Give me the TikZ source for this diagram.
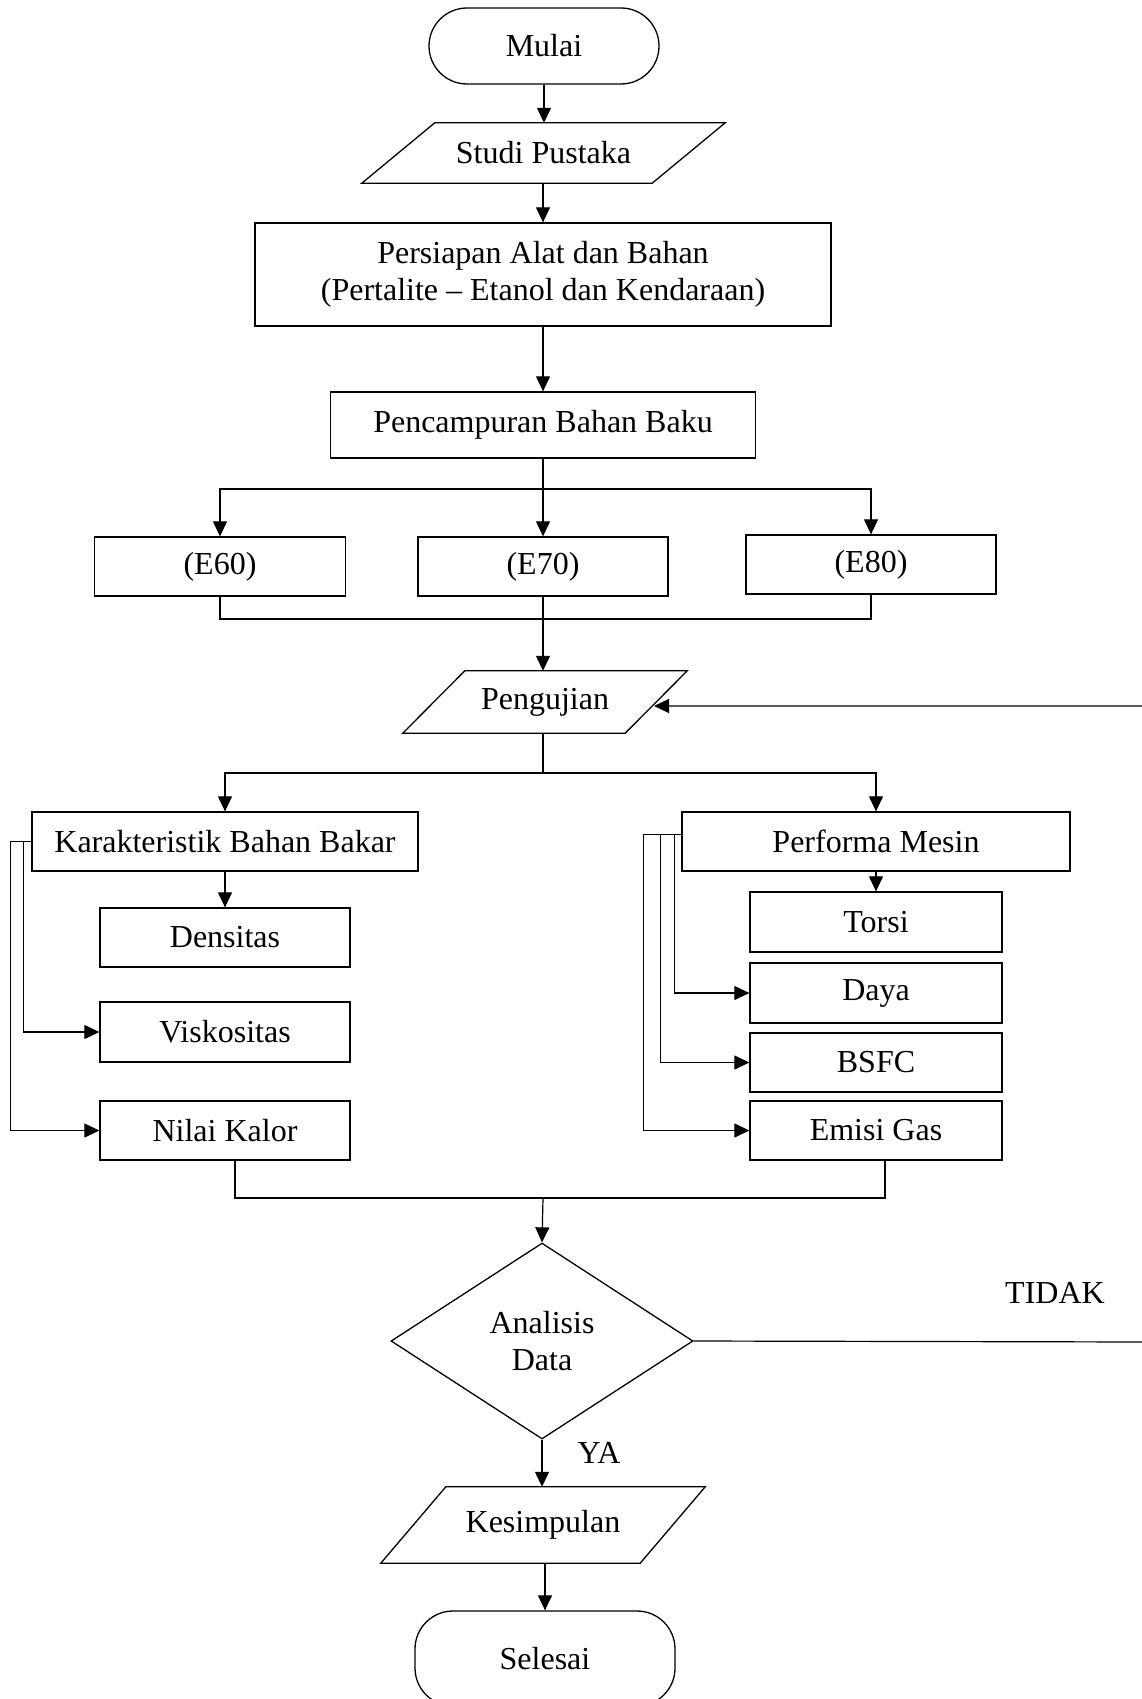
\documentclass[tikz,border=0pt]{standalone}
\usepackage{fontspec}
\setmainfont{Liberation Serif}
\usetikzlibrary{arrows.meta,shapes.geometric}
\newcommand\paraShape[2]{\draw[boxline] ([xshift=#2]#1.north west) -- ([xshift=#2]#1.north east) -- ([xshift=-#2]#1.south east) -- ([xshift=-#2]#1.south west) -- cycle;}
\begin{document}
\begin{tikzpicture}[x=1pt,y=-1pt,
  font=\fontsize{32}{37}\selectfont,
  boxline/.style={line width=1.3pt},
  box/.style={draw, rectangle, line width=1.3pt, inner sep=0pt, align=center},
  term/.style={box, rounded corners=38pt},
  paranode/.style={rectangle, inner sep=0pt, align=center},
  arr/.style={line width=1.2pt, -{Triangle[length=15pt,width=14pt]}},
  ln/.style={line width=1.2pt}]
\useasboundingbox (0,0) rectangle (1142,1699);

% main column
\node[term, minimum width=230pt, minimum height=76pt] (mulai) at (544,46) {Mulai};
\node[paranode, minimum width=290pt, minimum height=60pt] (studi) at (543.5,153) {Studi Pustaka};
\paraShape{studi}{36.5pt}
\node[box, minimum width=576pt, minimum height=103pt] (persiapan) at (543,274.5) {Persiapan Alat dan Bahan\\(Pertalite -- Etanol dan Kendaraan)};
\node[box, minimum width=425pt, minimum height=66pt] (campur) at (543,425) {Pencampuran Bahan Baku};

\node[box, minimum width=251pt, minimum height=59pt] (e60) at (220,566.5) {(E60)};
\node[box, minimum width=250pt, minimum height=59pt] (e70) at (543,566.5) {(E70)};
\node[box, minimum width=250pt, minimum height=59pt] (e80) at (871,564.5) {(E80)};

\node[paranode, minimum width=222pt, minimum height=62pt] (uji) at (545,702) {Pengujian};
\paraShape{uji}{31pt}

\node[box, minimum width=386pt, minimum height=59pt] (karak) at (225,841.5) {Karakteristik Bahan Bakar};
\node[box, minimum width=250pt, minimum height=59pt] (dens) at (225,937.5) {Densitas};
\node[box, minimum width=250pt, minimum height=60pt] (visk) at (225,1032) {Viskositas};
\node[box, minimum width=250pt, minimum height=59pt] (kalor) at (225,1130.5) {Nilai Kalor};

\node[box, minimum width=388pt, minimum height=59pt] (perf) at (876,841.5) {Performa Mesin};
\node[box, minimum width=252pt, minimum height=60pt] (torsi) at (876,922) {Torsi};
\node[box, minimum width=252pt, minimum height=60pt] (daya) at (876,993) {Daya};
\node[box, minimum width=252pt, minimum height=59pt] (bsfc) at (876,1062.5) {BSFC};
\node[box, minimum width=252pt, minimum height=59pt] (emisi) at (876,1130.5) {Emisi Gas};

\node[draw, diamond, line width=1.3pt, inner sep=0pt, align=center, minimum width=302pt, minimum height=196pt] (dia) at (542,1341) {Analisis\\Data};

\node[paranode, minimum width=259pt, minimum height=76pt] (kes) at (543,1525) {Kesimpulan};
\paraShape{kes}{32.5pt}
\node[term, minimum width=260pt, minimum height=95pt] (selesai) at (545,1658.5) {Selesai};

\node (ya) at (599,1453) {YA};
\node (tidak) at (1055,1293) {TIDAK};

% coordinates
\coordinate (split1) at (543,489);
\coordinate (merge1) at (543,619);
\coordinate (split2) at (543,773);
\coordinate (merge2) at (543,1198);
\coordinate (loopR) at (1150,1342);
\coordinate (loopT) at (1150,706);
\coordinate (ujiR) at (654,706);

% connectors
\draw[arr] (mulai) -- (studi.north -| mulai);
\draw[arr] (studi.south -| persiapan) -- (persiapan.north);
\draw[arr] (persiapan) -- (campur);
\draw[arr] (campur.south) -- (e70.north);
\draw[arr] (split1) -| (e60.north);
\draw[arr] (split1) -| (e80.north);
\draw[ln] (e60.south) |- (merge1) -| (e80.south);
\draw[arr] (e70.south) -- (uji.north -| e70);

\draw[ln] (uji.south -| split2) -- (split2);
\draw[arr] (split2) -| (karak.north);
\draw[arr] (split2) -| (perf.north);

\draw[arr] (karak) -- (dens);
\draw[arr] (karak.west) -- ++(-8,0) |- (visk.west);
\draw[arr] (karak.west) -- ++(-21,0) |- (kalor.west);

\draw[arr] (perf) -- (torsi);
\draw[arr] ([yshift=7pt]perf.west) -- ++(-7,0) |- (daya.west);
\draw[arr] ([yshift=7pt]perf.west) -- ++(-21,0) |- (bsfc.west);
\draw[arr] ([yshift=7pt]perf.west) -- ++(-38,0) |- (emisi.west);

\draw[ln] ([xshift=10pt]kalor.south) |- (merge2) -| ([xshift=9pt]emisi.south);
\draw[arr] (merge2) -- (dia.north);

\draw[arr] (dia.east) -- (loopR) -- (loopT) -- (ujiR);
\draw[arr] (dia.south) -- (kes.north -| dia);
\draw[arr] (kes.south -| selesai) -- (selesai.north);
\end{tikzpicture}
\end{document}
